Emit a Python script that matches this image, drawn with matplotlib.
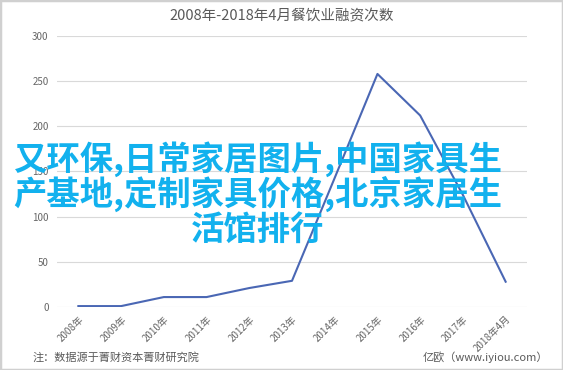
import matplotlib.pyplot as plt
from matplotlib.patches import Rectangle

plt.rcParams['font.family'] = ['Noto Sans CJK SC', 'DejaVu Sans']

years = ['2008年', '2009年', '2010年', '2011年', '2012年', '2013年',
         '2014年', '2015年', '2016年', '2017年', '2018年4月']
counts = [1, 1, 11, 11, 21, 29, 143, 258, 212, 124, 28]
yticks = [0, 50, 100, 150, 200, 250, 300]

gray = '#595959'

fig = plt.figure(figsize=(5.63, 3.70), dpi=100)
ax = fig.add_axes([57 / 563, 1 - 307 / 370, 470 / 563, 271 / 370])

x = list(range(len(years)))
ax.plot(x, counts, color='#4a67b4', lw=1.5, zorder=3)

ax.set_xlim(-0.5, len(years) - 0.5)
ax.set_ylim(0, 300)
ax.set_yticks(yticks)
ax.set_yticklabels([str(v) for v in yticks], fontsize=7, color='#666666')
ax.set_xticks(x)
ax.set_xticklabels(years, fontsize=7, color='#666666', rotation=45,
                   ha='right', va='top', rotation_mode='anchor')
ax.tick_params(axis='both', length=0, pad=6)
ax.tick_params(axis='x', pad=5)
ax.grid(axis='y', color='#d9d9d9', lw=0.8)
ax.set_axisbelow(True)
for s in ax.spines.values():
    s.set_visible(False)

fig.text(0.5, 1 - 16 / 370, '2008年-2018年4月餐饮业融资次数', ha='center',
         va='center', fontsize=10.5, color=gray)

fig.text(33 / 563, 1 - 357 / 370, '注：数据源于菁财资本菁财研究院', ha='left',
         va='center', fontsize=8, color=gray)
fig.text(548 / 563, 1 - 357 / 370, '亿欧（www.iyiou.com）', ha='right',
         va='center', fontsize=8, color=gray)

# overlay caption
cyan = '#12b1ee'
lines = ['又环保,日常家居图片,中国家具生', '产基地,定制家具价格,北京家居生', '活馆排行']
ys = [159, 194, 230]
for txt, yy in zip(lines, ys):
    fig.text(258 / 563, 1 - yy / 370, txt, ha='center', va='center',
             fontsize=24, color=cyan, fontweight='bold')

fig.patches.append(Rectangle((0, 0), 1, 1, transform=fig.transFigure,
                             fill=False, ec='#d0d0d0', lw=2.5))

fig.savefig('out.png', dpi=100)
